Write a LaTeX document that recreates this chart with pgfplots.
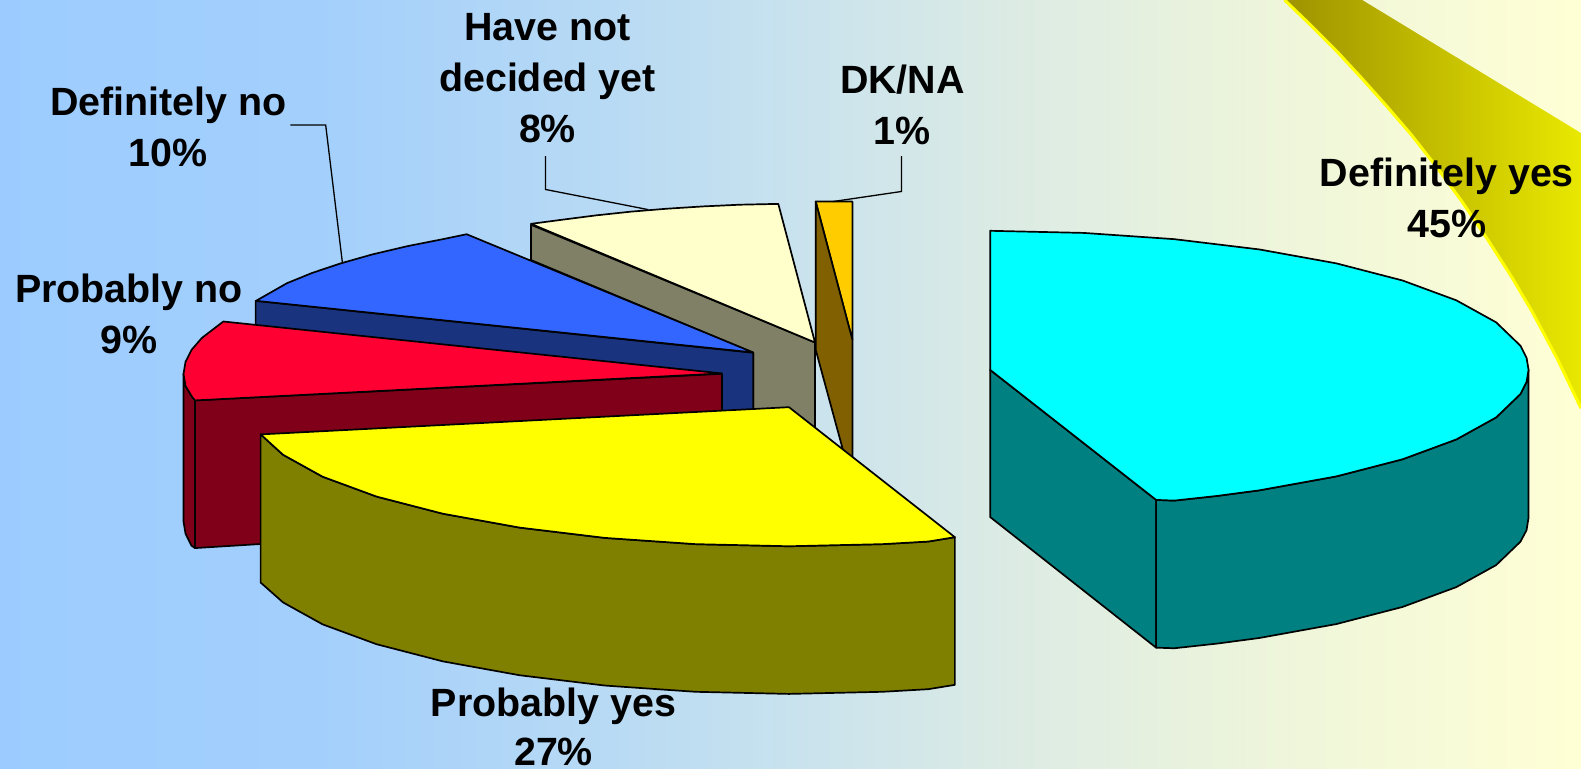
\documentclass[border=0pt]{standalone}
\usepackage{pgfplots}
\pgfplotsset{compat=1.18}
\usepackage{fontspec}
\setmainfont{Liberation Sans}
\definecolor{wedgel}{RGB}{158,146,0}
\definecolor{wedger}{RGB}{232,232,0}
\definecolor{pcyan}{RGB}{0,255,255}
\definecolor{pteal}{RGB}{0,128,128}
\definecolor{pyellow}{RGB}{255,255,0}
\definecolor{polive}{RGB}{128,128,0}
\definecolor{pred}{RGB}{255,0,51}
\definecolor{pmaroon}{RGB}{128,0,25}
\definecolor{pblue}{RGB}{51,102,255}
\definecolor{pnavy}{RGB}{26,51,127}
\definecolor{pcream}{RGB}{255,255,204}
\definecolor{pgrey}{RGB}{128,128,102}
\definecolor{porange}{RGB}{255,204,0}
\definecolor{pbrown}{RGB}{128,96,0}
% the page fades slowly from blue, it is not an even blend
\pgfdeclarehorizontalshading{pagefade}{100bp}{
  rgb(0bp)=(0.612,0.800,1);
  rgb(25bp)=(0.612,0.800,1);
  rgb(35bp)=(0.639,0.812,0.988);
  rgb(45bp)=(0.729,0.859,0.953);
  rgb(50bp)=(0.784,0.886,0.933);
  rgb(57bp)=(0.863,0.922,0.894);
  rgb(65.5bp)=(0.933,0.961,0.855);
  rgb(75bp)=(1,1,0.835);
  rgb(100bp)=(1,1,0.835)}
\tikzset{
  slice/.style={draw=black, line width=1.7pt, line join=round},
  leader/.style={draw=black, line width=1.3pt, line join=miter},
  lab/.style={align=center, font=\fontsize{39.4}{51}\selectfont\bfseries, inner sep=0pt},
}
\begin{document}
\begin{tikzpicture}
\begin{axis}[
    scale only axis,
    width=1581pt, height=769pt,
    xmin=0, xmax=1568,
    ymin=0, ymax=763,
    y dir=reverse,
    hide axis,
  ]
  % background and corner decoration
  \addplot[draw=none, shading=pagefade]
    coordinates {(0,0) (1568,0) (1568,763) (0,763)} --cycle;
  \addplot[draw=none, left color=wedgel, right color=wedger]
    coordinates {(1274,0) (1351,0) (1568,132) (1568,405) (1545,357) (1520,310) (1500,276)
      (1475,237) (1450,200) (1425,166) (1400,134) (1375,105) (1350,77) (1325,50) (1300,25)} --cycle;
  \addplot[draw=pyellow, line width=3pt]
    coordinates {(1274,0) (1300,25) (1325,50) (1350,77) (1375,105) (1400,134) (1425,166)
      (1450,200) (1475,237) (1500,276) (1520,310) (1545,357) (1568,405)};

  % have not decided yet
  \addplot[slice, fill=pgrey] coordinates {(526.6,223) (808.3,339.8) (808.3,430)
      (747,430) (747,350) (526.6,258)} --cycle;
  \addplot[slice, fill=pcream] coordinates {(526.6,222.1) (557.6,218) (591.1,213.7)
      (625.7,210) (661.1,207.1) (697.3,204.8) (734,203.1) (771.9,202.3) (808.3,339.8)} --cycle;

  % DK/NA
  \addplot[slice, fill=porange] coordinates {(809,200) (845.4,200) (845.4,337.2)} --cycle;
  \addplot[slice, fill=pbrown] coordinates {(809,200) (845.4,337.2) (845.4,470)
      (839.7,460) (809,347)} --cycle;

  % definitely no
  \addplot[slice, fill=pnavy] coordinates {(253.5,298.5) (747,350) (747,420) (253.5,400)} --cycle;
  \addplot[slice, fill=pblue] coordinates {(253.9,298.5) (284.6,281) (309.6,270.8) (338,261.3)
      (369.4,252.4) (403.8,244.3) (440.7,237) (462.8,232.4) (747,349.7)} --cycle;

  % probably no
  \addplot[slice, fill=pmaroon] coordinates {(182,371) (184,383) (190,393) (193.4,397.3)
      (193.4,543.8) (190,541.5) (184,529.5) (182,517.5)} --cycle;
  \addplot[slice, fill=pmaroon] coordinates {(193.4,397.3) (716,370.9) (716,420)
      (300,445) (258,539.8) (193.4,543.8)} --cycle;
  \addplot[slice, fill=pred] coordinates {(221.5,319) (716,370.5) (193.4,397.3) (190,393)
      (184,383) (182,371) (184,359) (190.1,347) (200.2,335.3)} --cycle;

  % probably yes
  \addplot[slice, fill=polive] coordinates {(258.5,431) (280.7,451.2) (320,473) (373.5,492.7)
      (439.2,509.7) (515.5,523.5) (599.9,533.7) (689.8,539.9) (782.5,542) (875.2,539.9)
      (920.7,537.3) (947,533) (947,679.5) (920.7,683.8) (875.2,686.4) (782.5,688.5)
      (689.8,686.4) (599.9,680.2) (515.5,670) (439.2,656.2) (373.5,639.2) (320,619.5)
      (280.7,597.7) (258.5,578)} --cycle;
  \addplot[slice, fill=pyellow] coordinates {(258.5,431) (280.7,451.2) (320,473) (373.5,492.7)
      (439.2,509.7) (515.5,523.5) (599.9,533.7) (689.8,539.9) (782.5,542) (875.2,539.9)
      (920.7,537.3) (947,533) (782.5,404)} --cycle;

  % definitely yes
  \addplot[slice, fill=pteal] coordinates {(982,367) (1146.6,496) (1146.6,642.6) (982,513)} --cycle;
  \addplot[slice, fill=pteal] coordinates {(1146.6,496) (1164.6,496.7) (1207.7,492) (1249,486.5)
      (1325.3,472.7) (1391,455.7) (1444.4,436) (1483.8,414.2) (1507.9,391) (1514,379)
      (1516,367) (1516,513.5) (1514,526) (1507.9,537.5) (1483.8,560.7) (1444.4,582.5)
      (1391,602.2) (1325.3,619.2) (1249,633) (1207.7,638.5) (1164.6,643.2) (1146.6,642.6)} --cycle;
  \addplot[slice, fill=pcyan] coordinates {(982,229) (1074.7,231.1) (1164.6,237.3) (1249,247.5)
      (1325.3,261.3) (1391,278.3) (1444.4,298) (1483.8,319.8) (1507.9,343) (1514,355)
      (1516,367) (1514,379) (1507.9,391) (1483.8,414.2) (1444.4,436) (1391,455.7)
      (1325.3,472.7) (1249,486.5) (1207.7,492) (1164.6,496.7) (1146.6,496) (982,367)} --cycle;

  % leader lines
  \addplot[leader] coordinates {(288,124) (323,124) (339.5,260)};
  \addplot[leader] coordinates {(541,155) (541,188) (643,208)};
  \addplot[leader] coordinates {(894,155) (894,190) (826,200)};

  \node[lab] at (axis cs:543,78) {Have not\\decided yet\\8\%};
  \node[lab] at (axis cs:895,104) {DK/NA\\1\%};
  \node[lab] at (axis cs:167,126) {Definitely no\\10\%};
  \node[lab] at (axis cs:128,311) {Probably no\\9\%};
  \node[lab] at (axis cs:1435,196) {Definitely yes\\45\%};
  \node[lab] at (axis cs:549,721.5) {Probably yes\\[-2pt]27\%};
\end{axis}
\end{tikzpicture}
\end{document}
